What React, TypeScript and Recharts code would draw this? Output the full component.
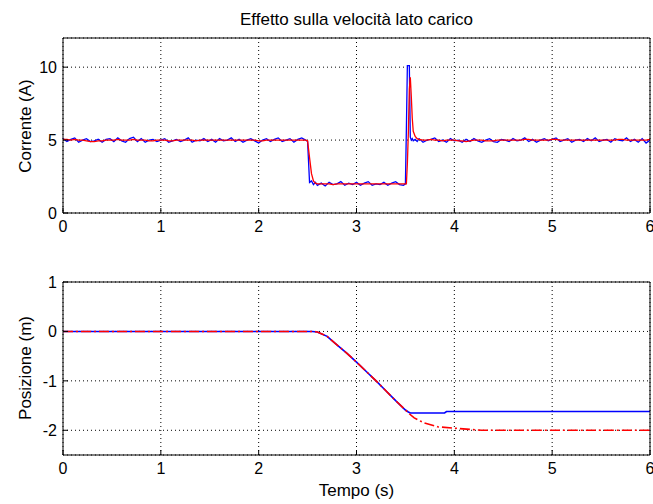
import React from 'react';
import { LineChart, Line, XAxis, YAxis, CartesianGrid, Label } from 'recharts';

const FONT = '"Liberation Sans", Arial, Helvetica, sans-serif';

const chartTitle = 'Effetto sulla velocità lato carico';
const yLabelTop = 'Corrente (A)';
const yLabelBottom = 'Posizione (m)';
const xLabel = 'Tempo (s)';

const xTicks = [0, 1, 2, 3, 4, 5, 6];
const yTicksTop = [0, 5, 10];
const yTicksBottom = [-2, -1, 0, 1];

// time grid of the current signals (s)
const tCurrent = [
  0, 0.04, 0.08, 0.12, 0.16, 0.2, 0.24, 0.28, 0.32, 0.36,
  0.4, 0.44, 0.48, 0.52, 0.56, 0.6, 0.64, 0.68, 0.72, 0.76,
  0.8, 0.84, 0.88, 0.92, 0.96, 1, 1.04, 1.08, 1.12, 1.16,
  1.2, 1.24, 1.28, 1.32, 1.36, 1.4, 1.44, 1.48, 1.52, 1.56,
  1.6, 1.64, 1.68, 1.72, 1.76, 1.8, 1.84, 1.88, 1.92, 1.96,
  2, 2.04, 2.08, 2.12, 2.16, 2.2, 2.24, 2.28, 2.32, 2.36,
  2.4, 2.44, 2.48, 2.5, 2.52, 2.54, 2.56, 2.58, 2.6, 2.64,
  2.68, 2.72, 2.76, 2.8, 2.84, 2.88, 2.92, 2.96, 3, 3.04,
  3.08, 3.12, 3.16, 3.2, 3.24, 3.28, 3.32, 3.36, 3.4, 3.44,
  3.48, 3.5, 3.51, 3.52, 3.53, 3.54, 3.55, 3.56, 3.57, 3.58,
  3.6, 3.62, 3.64, 3.68, 3.72, 3.76, 3.8, 3.84, 3.88, 3.92,
  3.96, 4, 4.04, 4.08, 4.12, 4.16, 4.2, 4.24, 4.28, 4.32,
  4.36, 4.4, 4.44, 4.48, 4.52, 4.56, 4.6, 4.64, 4.68, 4.72,
  4.76, 4.8, 4.84, 4.88, 4.92, 4.96, 5, 5.04, 5.08, 5.12,
  5.16, 5.2, 5.24, 5.28, 5.32, 5.36, 5.4, 5.44, 5.48, 5.52,
  5.56, 5.6, 5.64, 5.68, 5.72, 5.76, 5.8, 5.84, 5.88, 5.92,
  5.96, 6,
];

// measured current (blue)
const currentBlue = [
  5.1, 4.9, 5.05, 5.15, 4.85, 5.0, 5.1, 4.9, 4.95, 5.05,
  4.85, 5.05, 5.1, 4.9, 5.15, 4.95, 4.85, 5.1, 5.2, 4.9,
  5.1, 4.85, 5.0, 5.05, 4.9, 5.0, 5.1, 4.85, 4.95, 5.05,
  4.9, 5.0, 5.15, 4.85, 5.0, 4.95, 5.1, 4.9, 5.05, 4.85,
  5.1, 4.95, 5.0, 5.15, 4.9, 5.05, 4.85, 5.0, 5.1, 4.95,
  4.8, 5.0, 5.1, 4.9, 5.05, 5.15, 4.9, 5.0, 5.1, 4.85,
  5.05, 5.15, 5.0, 4.9, 2.1, 2.2, 1.95, 2.1, 1.9, 2.05,
  1.85, 2.1, 1.95, 2.0, 2.15, 1.9, 2.05, 1.95, 2.1, 1.9,
  2.05, 2.15, 1.9, 2.0, 1.95, 2.1, 1.9, 2.05, 2.15, 1.95,
  1.9, 2.0, 5.8, 10.1, 10.1, 10.1, 5.2, 5.0, 5.1, 4.95,
  5.05, 4.9, 5.1, 4.85, 5.0, 5.05, 5.15, 4.9, 5.0, 4.85,
  5.1, 4.95, 5.0, 4.85, 5.05, 4.9, 5.1, 4.95, 4.85, 5.0,
  5.1, 4.9, 4.85, 5.05, 5.0, 4.9, 5.1, 4.95, 5.0, 5.15,
  4.9, 5.05, 4.85, 5.0, 5.1, 4.95, 5.05, 5.15, 4.9, 5.0,
  5.1, 4.85, 5.0, 5.05, 4.9, 5.1, 4.95, 5.15, 4.9, 5.0,
  5.05, 4.85, 5.1, 5.0, 4.95, 5.15, 4.9, 5.05, 4.85, 5.1,
  4.8, 5.0,
];

// simulated / filtered current (red)
const currentRed = [
  5.05, 5.05, 5.0, 5.05, 5.0, 5.0, 4.95, 4.9, 4.9, 4.95,
  4.95, 5.0, 5.0, 5.0, 5.05, 5.0, 5.0, 5.0, 5.05, 5.0,
  5.0, 5.0, 4.95, 4.95, 5.0, 5.0, 5.0, 4.95, 4.95, 5.0,
  5.0, 5.0, 5.0, 5.0, 4.95, 5.0, 5.0, 5.0, 5.0, 5.0,
  5.0, 5.0, 5.0, 5.0, 5.0, 5.0, 5.0, 5.0, 5.0, 5.0,
  4.95, 4.95, 5.0, 5.0, 5.0, 5.0, 5.0, 5.0, 5.0, 5.0,
  5.0, 5.0, 5.0, 4.95, 3.8, 2.7, 2.2, 2.05, 2.0, 2.0,
  2.0, 2.0, 1.95, 2.0, 2.0, 2.0, 2.0, 2.0, 2.0, 2.0,
  2.0, 2.0, 2.0, 2.0, 2.0, 2.0, 2.0, 2.0, 2.0, 2.0,
  2.0, 2.0, 2.0, 3.4, 5.5, 8.5, 9.3, 8.0, 6.5, 5.6,
  5.25, 5.1, 5.05, 5.0, 5.0, 5.05, 5.0, 5.0, 4.95, 5.0,
  5.0, 5.0, 4.95, 4.95, 4.9, 4.95, 5.0, 5.0, 5.0, 4.95,
  4.95, 4.95, 5.0, 5.0, 5.0, 5.0, 5.0, 5.0, 5.0, 5.05,
  5.05, 5.0, 5.0, 5.0, 5.0, 5.0, 5.05, 5.05, 5.0, 5.0,
  5.0, 5.0, 5.0, 5.0, 5.0, 5.0, 5.0, 5.0, 5.0, 5.0,
  5.0, 5.0, 5.0, 5.05, 5.05, 5.0, 5.0, 5.0, 5.0, 5.0,
  5.0, 5.05,
];

// position (blue, solid)
const tPosBlue = [0, 2.55, 2.6, 2.7, 2.8, 2.9, 3.0, 3.1, 3.2, 3.3, 3.4, 3.5, 3.53, 3.55, 3.9, 3.92, 6];
const posBlue = [0, 0, -0.01, -0.1, -0.27, -0.44, -0.62, -0.81, -1.0, -1.2, -1.4, -1.59, -1.63, -1.65, -1.65, -1.62, -1.62];

// position (red, dash-dot)
const tPosRed = [0, 2.55, 2.6, 2.7, 2.8, 2.9, 3.0, 3.1, 3.2, 3.3, 3.4, 3.5, 3.53, 3.59, 3.69, 3.83, 4.02, 4.28, 6];
const posRed = [0, 0, -0.01, -0.1, -0.27, -0.44, -0.62, -0.81, -1.0, -1.2, -1.4, -1.59, -1.65, -1.75, -1.85, -1.93, -1.96, -2.0, -2.0];

const currentData = tCurrent.map((t, i) => ({ t, blue: currentBlue[i], red: currentRed[i] }));
const posBlueData = tPosBlue.map((t, i) => ({ t, v: posBlue[i] }));
const posRedData = tPosRed.map((t, i) => ({ t, v: posRed[i] }));

const tickStyle = { fill: '#000', fontSize: 16, fontFamily: FONT };
const labelStyle: React.CSSProperties = { fontSize: 17, fontFamily: FONT, fill: '#000' };

export default function App() {
  return (
    <div style={{ position: 'absolute', left: 0, top: 0, width: 653, height: 504, background: '#fff' }}>
      <div style={{ position: 'absolute', left: 0, top: 0 }}>
        <LineChart width={653} height={240} data={currentData} margin={{ top: 37, right: 2, bottom: 0, left: 0 }}>
          <CartesianGrid stroke="#000" strokeDasharray="1 3" />
          <XAxis dataKey="t" type="number" domain={[0, 6]} ticks={xTicks} interval={0} height={27}
            tickSize={-5} tickMargin={13} stroke="#000" tick={tickStyle} allowDataOverflow />
          <XAxis xAxisId="top" orientation="top" type="number" domain={[0, 6]} ticks={xTicks} interval={0}
            height={1} tickSize={-5} tick={false} stroke="#000">
            <Label content={() => (
              <text x={356.5} y={25} textAnchor="middle" style={labelStyle}>{chartTitle}</text>
            )} />
          </XAxis>
          <YAxis type="number" domain={[0, 12]} ticks={yTicksTop} interval={0} width={63}
            tickSize={-5} tickMargin={11} stroke="#000" tick={tickStyle} allowDataOverflow>
            <Label content={() => (
              <text x={31} y={126} textAnchor="middle" transform="rotate(-90 31 126)" style={labelStyle}>{yLabelTop}</text>
            )} />
          </YAxis>
          <YAxis yAxisId="right" orientation="right" type="number" domain={[0, 12]} ticks={yTicksTop} interval={0}
            width={1} tickSize={-5} tick={false} stroke="#000" />
          <Line dataKey="blue" type="linear" stroke="#0000ff" strokeWidth={1.3} dot={false} isAnimationActive={false} />
          <Line dataKey="red" type="linear" stroke="#ff0000" strokeWidth={1.3} dot={false} isAnimationActive={false} />
        </LineChart>
      </div>
      <div style={{ position: 'absolute', left: 0, top: 246 }}>
        <LineChart width={653} height={258} margin={{ top: 35, right: 2, bottom: 0, left: 0 }}>
          <CartesianGrid stroke="#000" strokeDasharray="1 3" />
          <XAxis dataKey="t" type="number" domain={[0, 6]} ticks={xTicks} interval={0} height={49}
            tickSize={-5} tickMargin={13} stroke="#000" tick={tickStyle} allowDataOverflow>
            <Label content={() => (
              <text x={356.5} y={250} textAnchor="middle" style={labelStyle}>{xLabel}</text>
            )} />
          </XAxis>
          <XAxis xAxisId="top" orientation="top" type="number" domain={[0, 6]} ticks={xTicks} interval={0}
            height={1} tickSize={-5} tick={false} stroke="#000" />
          <YAxis type="number" domain={[-2.5, 1]} ticks={yTicksBottom} interval={0} width={63}
            tickSize={-5} tickMargin={11} stroke="#000" tick={tickStyle} allowDataOverflow>
            <Label content={() => (
              <text x={31} y={122} textAnchor="middle" transform="rotate(-90 31 122)" style={labelStyle}>{yLabelBottom}</text>
            )} />
          </YAxis>
          <YAxis yAxisId="right" orientation="right" type="number" domain={[-2.5, 1]} ticks={yTicksBottom} interval={0}
            width={1} tickSize={-5} tick={false} stroke="#000" />
          <Line data={posBlueData} dataKey="v" type="linear" stroke="#0000ff" strokeWidth={1.6} dot={false} isAnimationActive={false} />
          <Line data={posRedData} dataKey="v" type="linear" stroke="#ff0000" strokeWidth={1.6} strokeDasharray="10 3 2 3" dot={false} isAnimationActive={false} />
        </LineChart>
      </div>
    </div>
  );
}
